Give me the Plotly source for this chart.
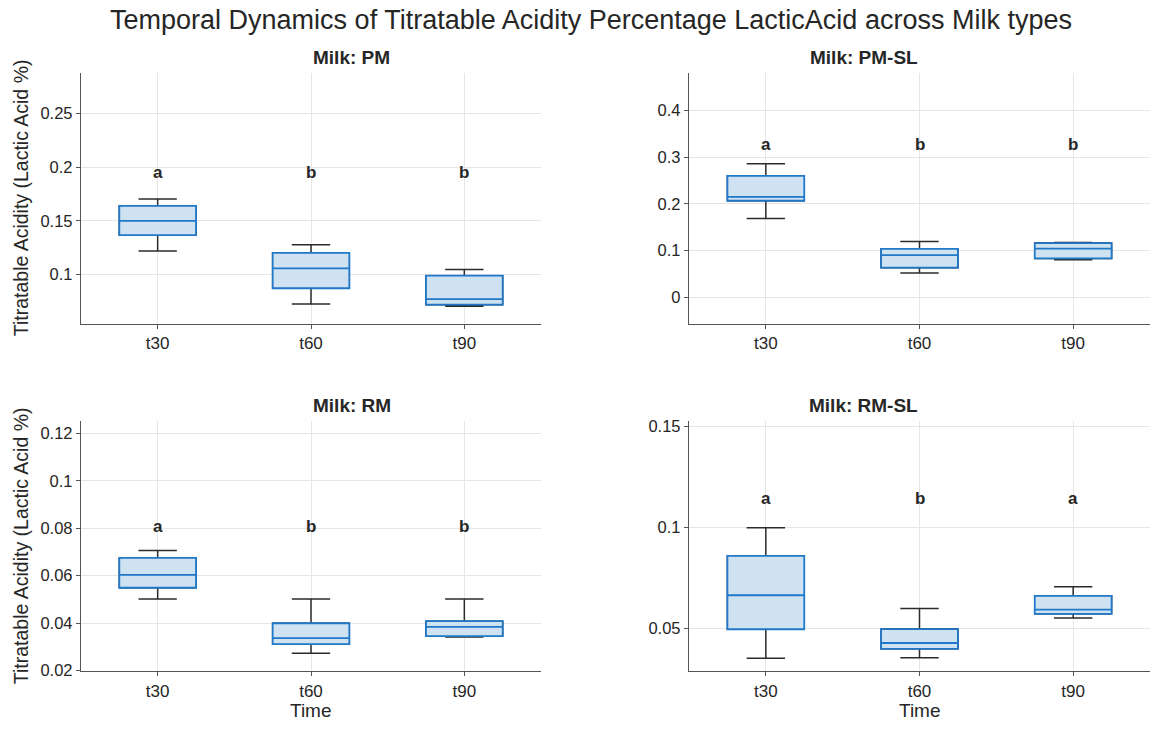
import plotly.graph_objects as go
from plotly.subplots import make_subplots

times = ["t30", "t60", "t90"]
panels = ["PM", "PM-SL", "RM", "RM-SL"]

# five-number summaries per panel: lower whisker, Q1, median, Q3, upper whisker
lower = {"PM": [0.122, 0.0727, 0.0706], "PM-SL": [0.1688, 0.0525, 0.0806],
         "RM": [0.0501, 0.0272, 0.0341], "RM-SL": [0.0354, 0.0356, 0.0552]}
q1 = {"PM": [0.1367, 0.0874, 0.0721], "PM-SL": [0.2067, 0.0637, 0.0834],
      "RM": [0.0549, 0.0311, 0.0345], "RM-SL": [0.0497, 0.0400, 0.0573]}
median = {"PM": [0.150, 0.1058, 0.0773], "PM-SL": [0.2151, 0.0904, 0.1044],
          "RM": [0.0603, 0.0336, 0.0384], "RM-SL": [0.0665, 0.0429, 0.0594]}
q3 = {"PM": [0.164, 0.1202, 0.0991], "PM-SL": [0.2599, 0.1037, 0.1163],
      "RM": [0.0675, 0.0399, 0.0408], "RM-SL": [0.0860, 0.0498, 0.0662]}
upper = {"PM": [0.1704, 0.1279, 0.1049], "PM-SL": [0.2858, 0.1198, 0.1177],
         "RM": [0.0706, 0.0501, 0.0501], "RM-SL": [0.0999, 0.0599, 0.0707]}

letters = {"PM": ["a", "b", "b"], "PM-SL": ["a", "b", "b"],
           "RM": ["a", "b", "b"], "RM-SL": ["a", "b", "a"]}
letter_y = {"PM": 0.195, "PM-SL": 0.327, "RM": 0.0808, "RM-SL": 0.1143}

y_ranges = {"PM": [0.0545, 0.2876], "PM-SL": [-0.056, 0.48],
            "RM": [0.0196, 0.1253], "RM-SL": [0.0289, 0.1526]}
y_ticks = {"PM": [0.1, 0.15, 0.2, 0.25], "PM-SL": [0, 0.1, 0.2, 0.3, 0.4],
           "RM": [0.02, 0.04, 0.06, 0.08, 0.1, 0.12], "RM-SL": [0.05, 0.1, 0.15]}

title = "Temporal Dynamics of Titratable Acidity Percentage LacticAcid across Milk types"
ytitle = "Titratable Acidity (Lactic Acid %)"
xtitle = "Time"

FONT = "Liberation Sans, Arial, Helvetica, sans-serif"
BLUE = "#1f78c8"
FILL = "rgb(207,226,242)"
TXT = "#262626"

W, H = 1150, 729
fig = make_subplots(rows=2, cols=2)

pos = {"PM": (1, 1), "PM-SL": (1, 2), "RM": (2, 1), "RM-SL": (2, 2)}
xdom = {1: [81 / W, 541 / W], 2: [689 / W, 1.0]}
ydom = {1: [1 - 325 / H, 1 - 70 / H], 2: [1 - 678.5 / H, 1 - 424 / H]}

def fmt(v):
    return ("%.3f" % v).rstrip("0").rstrip(".")

for i, p in enumerate(panels):
    r, c = pos[p]
    # whiskers (dark)
    fig.add_trace(go.Box(x=times, q1=q1[p], median=median[p], q3=q3[p],
                         lowerfence=lower[p], upperfence=upper[p],
                         width=0.5, whiskerwidth=0.5,
                         line=dict(color="#2b2b2b", width=1.5),
                         fillcolor="white", boxpoints=False, showlegend=False,
                         hoverinfo="skip"), row=r, col=c)
    # boxes (blue)
    fig.add_trace(go.Box(x=times, q1=q1[p], median=median[p], q3=q3[p],
                         lowerfence=q1[p], upperfence=q3[p],
                         width=0.5, whiskerwidth=0.5,
                         line=dict(color=BLUE, width=1.8),
                         fillcolor=FILL, boxpoints=False, showlegend=False),
                  row=r, col=c)
    idx = i + 1
    xa = "x" if idx == 1 else "x%d" % idx
    ya = "y" if idx == 1 else "y%d" % idx
    for t, L in zip(times, letters[p]):
        fig.add_annotation(x=t, y=letter_y[p], xref=xa, yref=ya, text="<b>%s</b>" % L,
                           showarrow=False, font=dict(size=17, color=TXT, family=FONT))
    fig.update_xaxes(row=r, col=c, domain=xdom[c], range=[-0.5, 2.5],
                     showline=True, linecolor="#555555", linewidth=1.3,
                     ticks="outside", ticklen=4, tickcolor="#555555",
                     showgrid=True, gridcolor="#e6e6e6", gridwidth=1,
                     tickfont=dict(size=17, color=TXT, family=FONT), zeroline=False)
    fig.update_yaxes(row=r, col=c, domain=ydom[r], range=y_ranges[p],
                     tickvals=y_ticks[p], ticktext=[fmt(v) for v in y_ticks[p]],
                     showline=True, linecolor="#555555", linewidth=1.3,
                     ticks="outside", ticklen=4, tickcolor="#555555",
                     showgrid=True, gridcolor="#e6e6e6", gridwidth=1, zeroline=False,
                     tickfont=dict(size=16.5, color=TXT, family=FONT))
    x0, x1 = xdom[c]
    y0, y1 = ydom[r]
    # subplot title
    fig.add_annotation(x=(x0 + x1) / 2, y=y1, xref="paper", yref="paper",
                       yanchor="bottom", yshift=3, text="<b>Milk: %s</b>" % p,
                       showarrow=False, font=dict(size=19, color=TXT, family=FONT))
    if c == 1:
        fig.add_annotation(x=21 / W, y=(y0 + y1) / 2, xref="paper", yref="paper",
                           xanchor="center", yanchor="middle", textangle=-90,
                           text=ytitle, showarrow=False,
                           font=dict(size=19.5, color=TXT, family=FONT))
    if r == 2:
        fig.add_annotation(x=(x0 + x1) / 2, y=1 - 718.5 / H, xref="paper", yref="paper",
                           xanchor="center", yanchor="middle", text=xtitle,
                           showarrow=False, font=dict(size=19, color=TXT, family=FONT))

fig.update_layout(width=W, height=H, margin=dict(l=0, r=0, t=0, b=0),
                  paper_bgcolor="white", plot_bgcolor="white", boxmode="overlay",
                  title=dict(text=title, x=591 / W, xanchor="center", y=1 - 20 / H, yanchor="middle",
                             font=dict(size=27, color=TXT, family=FONT)))

fig.write_html("out.html")
